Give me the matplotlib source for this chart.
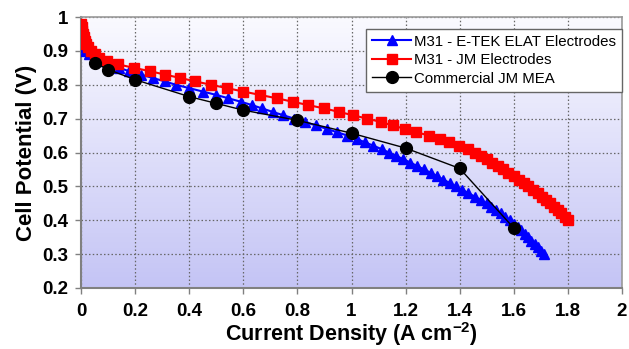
import matplotlib
matplotlib.use("Agg")
import matplotlib.pyplot as plt
import numpy as np
from matplotlib.ticker import FuncFormatter, MultipleLocator
from matplotlib.colors import LinearSegmentedColormap

plt.rcParams['font.family'] = ['Liberation Sans', 'DejaVu Sans']
plt.rcParams['mathtext.fontset'] = 'custom'
plt.rcParams['mathtext.rm'] = 'Liberation Sans:bold'
plt.rcParams['mathtext.bf'] = 'Liberation Sans:bold'
plt.rcParams['mathtext.default'] = 'bf'

# ---- data ----
etek_x = [0.000, 0.004, 0.016, 0.030, 0.050, 0.078, 0.107, 0.140, 0.178, 0.222,
          0.265, 0.310, 0.350, 0.400, 0.450, 0.500, 0.545, 0.590, 0.632, 0.670,
          0.708, 0.748, 0.788, 0.828, 0.868, 0.908, 0.946, 0.985, 1.019, 1.050,
          1.081, 1.111, 1.138, 1.165, 1.192, 1.218, 1.243, 1.268, 1.293, 1.316,
          1.340, 1.363, 1.386, 1.409, 1.432, 1.455, 1.477, 1.500, 1.517, 1.534,
          1.551, 1.568, 1.585, 1.602, 1.614, 1.627, 1.640, 1.652, 1.665, 1.677,
          1.690, 1.700, 1.712]
etek_v = [0.915, 0.91, 0.90, 0.89, 0.88, 0.87, 0.86, 0.85, 0.84, 0.83,
          0.82, 0.81, 0.80, 0.79, 0.78, 0.77, 0.76, 0.75, 0.74, 0.73,
          0.72, 0.71, 0.70, 0.69, 0.68, 0.67, 0.66, 0.65, 0.64, 0.63,
          0.62, 0.61, 0.60, 0.59, 0.58, 0.57, 0.56, 0.55, 0.54, 0.53,
          0.52, 0.51, 0.50, 0.49, 0.48, 0.47, 0.46, 0.45, 0.44, 0.43,
          0.42, 0.41, 0.40, 0.39, 0.38, 0.37, 0.36, 0.35, 0.34, 0.33,
          0.32, 0.31, 0.30]

jm_x = [0.000, 0.002, 0.004, 0.006, 0.010, 0.015, 0.020, 0.027, 0.037, 0.050,
        0.068, 0.095, 0.138, 0.195, 0.255, 0.310, 0.367, 0.422, 0.480, 0.540,
        0.600, 0.662, 0.724, 0.782, 0.840, 0.900, 0.953, 1.005, 1.058, 1.109,
        1.152, 1.196, 1.240, 1.286, 1.326, 1.362, 1.397, 1.430, 1.455, 1.480,
        1.500, 1.520, 1.540, 1.560, 1.580, 1.600, 1.618, 1.636, 1.654, 1.672,
        1.690, 1.705, 1.720, 1.735, 1.750, 1.763, 1.776, 1.788, 1.800]
jm_v = [0.98, 0.97, 0.96, 0.95, 0.94, 0.93, 0.92, 0.91, 0.90, 0.89,
        0.88, 0.87, 0.86, 0.85, 0.84, 0.83, 0.82, 0.81, 0.80, 0.79,
        0.78, 0.77, 0.76, 0.75, 0.74, 0.73, 0.72, 0.71, 0.70, 0.69,
        0.68, 0.67, 0.66, 0.65, 0.64, 0.63, 0.62, 0.61, 0.60, 0.59,
        0.58, 0.57, 0.56, 0.55, 0.54, 0.53, 0.52, 0.51, 0.50, 0.49,
        0.48, 0.47, 0.46, 0.45, 0.44, 0.43, 0.42, 0.41, 0.40]

mea_x = [0.05, 0.1, 0.2, 0.4, 0.5, 0.6, 0.8, 1.0, 1.2, 1.4, 1.6]
mea_v = [0.865, 0.845, 0.815, 0.765, 0.745, 0.725, 0.695, 0.657, 0.613, 0.553, 0.377]

labels = ['M31 - E-TEK ELAT Electrodes', 'M31 - JM Electrodes', 'Commercial JM MEA']

# ---- figure ----
fig = plt.figure(figsize=(6.29, 3.49), dpi=100)
ax = fig.add_axes([81/629, 1-288/349, (622-81)/629, (288-17)/349])

ax.set_xlim(0, 2)
ax.set_ylim(0.2, 1.0)

# gradient background
grad = np.linspace(0, 1, 256).reshape(-1, 1)
cmap = LinearSegmentedColormap.from_list('bg', ['#fafaff', '#c4c4f5'])
ax.imshow(grad, extent=[0, 2, 1.0, 0.2], aspect='auto', cmap=cmap, zorder=0,
          origin='lower')
ax.set_ylim(0.2, 1.0)

ax.grid(True, linestyle=(0, (1.2, 1.8)), color='#666666', linewidth=0.9, zorder=1)

ax.plot(etek_x, etek_v, color='#0000ff', marker='^', markersize=7.5, linewidth=1.5,
        label=labels[0], zorder=3)
ax.plot(jm_x, jm_v, color='#ff0000', marker='s', markersize=7, linewidth=1.5,
        label=labels[1], zorder=3)
ax.plot(mea_x, mea_v, color='black', marker='o', markersize=8.5, linewidth=1.0,
        label=labels[2], zorder=4)

ax.xaxis.set_major_locator(MultipleLocator(0.2))
ax.yaxis.set_major_locator(MultipleLocator(0.1))
fmt = FuncFormatter(lambda v, p: '%g' % round(v, 2))
ax.xaxis.set_major_formatter(fmt)
ax.yaxis.set_major_formatter(fmt)

for s in ['top', 'right']:
    ax.spines[s].set_color('#999999')
    ax.spines[s].set_linewidth(1.2)
for s in ['left', 'bottom']:
    ax.spines[s].set_color('#808080')
    ax.spines[s].set_linewidth(1.5)

ax.tick_params(axis='both', direction='out', length=4, width=1, color='#808080',
               labelsize=13.5)
ax.tick_params(axis='x', pad=7)
ax.tick_params(axis='y', pad=5)
for lab in ax.get_xticklabels() + ax.get_yticklabels():
    lab.set_fontweight('bold')

ax.set_xlabel('Current Density (A cm$^{\\mathrm{-2}}$)', fontsize=15.5,
              fontweight='bold', labelpad=0)
ax.set_ylabel('Cell Potential (V)', fontsize=16, fontweight='bold', labelpad=4)

leg = ax.legend(loc='upper right', bbox_to_anchor=(1.0, 0.957), borderaxespad=0,
                fontsize=10.8, frameon=True, fancybox=False, handlelength=2.6,
                handletextpad=0.2, labelspacing=0.3, borderpad=0.4)
leg.get_frame().set_edgecolor('#666666')
leg.get_frame().set_linewidth(1.0)
leg.get_frame().set_alpha(1.0)

fig.savefig('out.png', dpi=100)
